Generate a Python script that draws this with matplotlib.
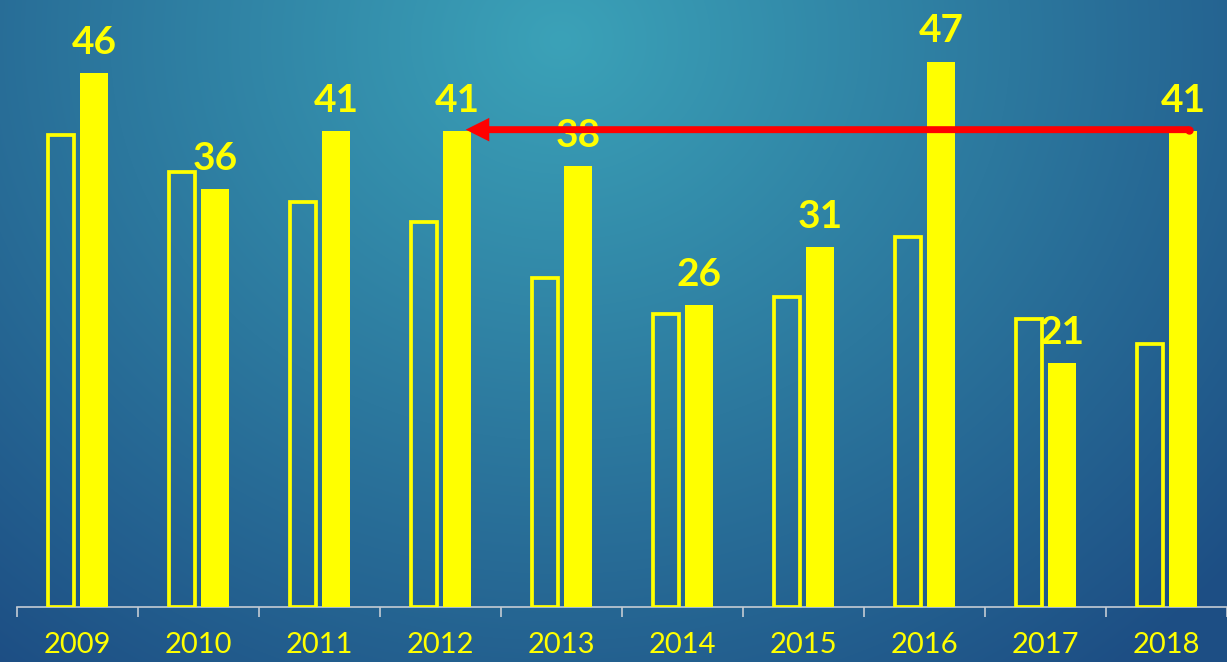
import matplotlib
matplotlib.use("Agg")
import matplotlib.pyplot as plt
import numpy as np
from matplotlib.colors import to_rgb

# values
years = ["2009", "2010", "2011", "2012", "2013", "2014", "2015", "2016", "2017", "2018"]
outline_vals = [40.7, 37.5, 34.9, 33.2, 28.4, 25.3, 26.7, 31.9, 24.8, 22.7]
solid_vals = [46, 36, 41, 41, 38, 26, 31, 47, 21, 41]
arrow_from = "2018"
arrow_to = "2012"

YELLOW = "#ffff00"

fig = plt.figure(figsize=(12.27, 6.62), dpi=100)

# radial gradient background
bg = fig.add_axes([0, 0, 1, 1])
bg.set_axis_off()
W, H = 1227, 662
xx, yy = np.meshgrid(np.arange(W), np.arange(H))
d = np.sqrt(((xx - 560) / 900.0) ** 2 + ((yy - 40) / 800.0) ** 2)
d = np.clip(d, 0, 1)[..., None]
c_in = np.array(to_rgb("#3ba2b8"))
c_out = np.array(to_rgb("#1d4e84"))
img = c_in * (1 - d) + c_out * d
bg.imshow(img, aspect="auto", extent=[0, 1, 0, 1], origin="upper")
bg.set_xlim(0, 1)
bg.set_ylim(0, 1)

ax = fig.add_axes([17 / W, (H - 607) / H, (W - 17) / W, 607 / H])
ax.patch.set_alpha(0)

x = np.arange(len(years))
off = 0.138
w_out = 0.21
w_sol = 0.229

ax.bar(x - off, outline_vals, width=w_out, facecolor="none", edgecolor=YELLOW, linewidth=2.7, zorder=3)
ax.bar(x + off, solid_vals, width=w_sol, color=YELLOW, linewidth=0, zorder=3)

for xi, v in zip(x, solid_vals):
    ax.annotate(str(v), (xi + off, v), xytext=(0, 14), textcoords="offset points",
                ha="center", va="baseline", fontsize=28, fontweight="bold",
                color=YELLOW, family=["Lato", "DejaVu Sans"], zorder=5)

# red arrow between the two bars
i0 = years.index(arrow_from)
i1 = years.index(arrow_to)
ya = solid_vals[i0] + 0.15
ax.annotate("", xy=(i1 + off + 0.07, ya), xytext=(i0 + off + 0.05, ya),
            arrowprops=dict(width=5, headwidth=17, headlength=17, shrink=0,
                            facecolor="#ff0000", edgecolor="#ff0000", linewidth=0),
            zorder=6)
ax.plot([i0 + off + 0.05], [ya], marker="o", markersize=5, color="#ff0000", zorder=6)

ax.set_xlim(-0.5, (W - 17) / 122.3 - 0.5)
ax.set_ylim(0, 607 / 11.6)

for s in ["top", "right", "left"]:
    ax.spines[s].set_visible(False)
ax.spines["bottom"].set_color("#c4ccd4")
ax.spines["bottom"].set_linewidth(1.2)

ax.set_yticks([])
ax.set_xticks(x)
ax.set_xticklabels(years)
ax.set_xticks(np.arange(len(years) + 1) - 0.5, minor=True)
ax.tick_params(axis="x", which="major", length=0, pad=18, labelsize=21, labelcolor=YELLOW)
ax.tick_params(axis="x", which="minor", length=7.5, width=1.2, color="#c4ccd4")
for lab in ax.get_xticklabels():
    lab.set_family(["Lato", "DejaVu Sans"])

fig.savefig("out.png", dpi=100)
